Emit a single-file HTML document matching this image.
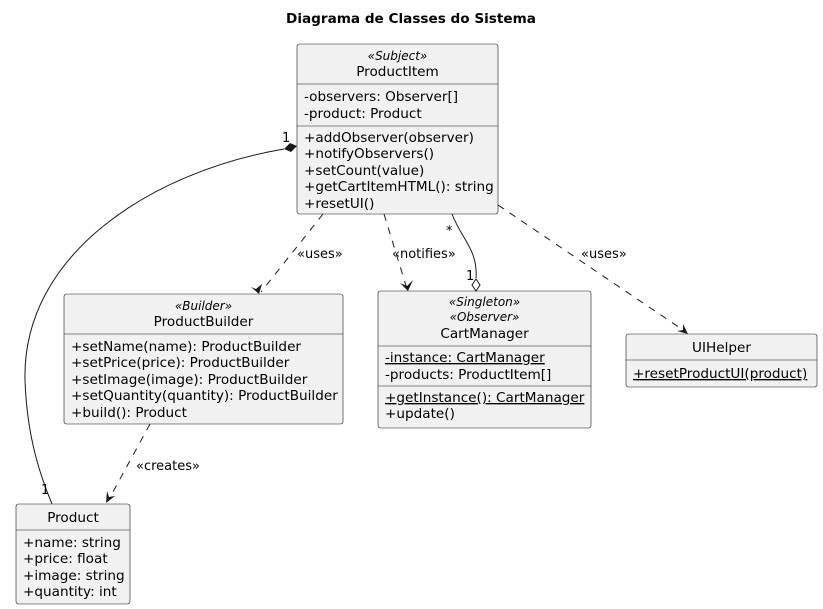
<!DOCTYPE html>
<html><head><meta charset="utf-8"><style>
html,body{margin:0;padding:0;background:#fff;}
svg{display:block;font-family:"DejaVu Sans","Liberation Sans",sans-serif;}
.b{fill:#f1f1f1;stroke:#181818;stroke-width:0.6;}
.l{stroke:#181818;stroke-width:0.6;}
.t{font-size:13.6px;fill:#000;}
.s{font-size:12px;font-style:italic;fill:#000;}
.c{stroke:#181818;stroke-width:1;fill:none;}
.d{stroke:#181818;stroke-width:1;fill:none;stroke-dasharray:7,7;}
.lb{font-size:13px;fill:#000;}
</style></head><body>
<svg width="823" height="609" viewBox="0 0 823 609">
<text x="411" y="23" text-anchor="middle" font-size="13.6" font-weight="bold">Diagrama de Classes do Sistema</text>

<!-- ProductItem -->
<rect class="b" x="297" y="44" width="201" height="170" rx="2.5"/>
<text class="s" x="397.5" y="60" text-anchor="middle">«Subject»</text>
<text class="t" x="397.5" y="76" text-anchor="middle">ProductItem</text>
<line class="l" x1="297" y1="84" x2="498" y2="84"/>
<text class="t" x="304" y="101">-observers: Observer[]</text>
<text class="t" x="304" y="118">-product: Product</text>
<line class="l" x1="297" y1="126" x2="498" y2="126"/>
<text class="t" x="304" y="142">+addObserver(observer)</text>
<text class="t" x="304" y="158">+notifyObservers()</text>
<text class="t" x="304" y="175">+setCount(value)</text>
<text class="t" x="304" y="191">+getCartItemHTML(): string</text>
<text class="t" x="304" y="208">+resetUI()</text>

<!-- ProductBuilder -->
<rect class="b" x="64" y="294" width="279" height="130" rx="2.5"/>
<text class="s" x="203.5" y="310" text-anchor="middle">«Builder»</text>
<text class="t" x="203.5" y="326" text-anchor="middle">ProductBuilder</text>
<line class="l" x1="64" y1="334" x2="343" y2="334"/>
<text class="t" x="71" y="351">+setName(name): ProductBuilder</text>
<text class="t" x="71" y="367">+setPrice(price): ProductBuilder</text>
<text class="t" x="71" y="384">+setImage(image): ProductBuilder</text>
<text class="t" x="71" y="400">+setQuantity(quantity): ProductBuilder</text>
<text class="t" x="71" y="417">+build(): Product</text>

<!-- CartManager -->
<rect class="b" x="378" y="291" width="213" height="137" rx="2.5"/>
<text class="s" x="484.5" y="306" text-anchor="middle">«Singleton»</text>
<text class="s" x="484.5" y="321" text-anchor="middle">«Observer»</text>
<text class="t" x="484.5" y="338" text-anchor="middle">CartManager</text>
<line class="l" x1="378" y1="346" x2="591" y2="346"/>
<text class="t" x="385" y="362" text-decoration="underline">-instance: CartManager</text>
<text class="t" x="385" y="379">-products: ProductItem[]</text>
<line class="l" x1="378" y1="386" x2="591" y2="386"/>
<text class="t" x="385" y="402" text-decoration="underline">+getInstance(): CartManager</text>
<text class="t" x="385" y="418">+update()</text>

<!-- UIHelper -->
<rect class="b" x="626" y="334" width="191" height="53" rx="2.5"/>
<text class="t" x="721.5" y="352" text-anchor="middle">UIHelper</text>
<line class="l" x1="626" y1="360" x2="817" y2="360"/>
<text class="t" x="633" y="378" text-decoration="underline">+resetProductUI(product)</text>

<!-- Product -->
<rect class="b" x="16" y="504" width="114" height="100" rx="2.5"/>
<text class="t" x="73" y="522" text-anchor="middle">Product</text>
<line class="l" x1="16" y1="530" x2="130" y2="530"/>
<text class="t" x="23" y="547">+name: string</text>
<text class="t" x="23" y="563">+price: float</text>
<text class="t" x="23" y="580">+image: string</text>
<text class="t" x="23" y="596">+quantity: int</text>

<!-- composition -->
<path class="c" d="M284,149 C150,172 22,255 25,380 C27,440 42,480 52,504"/>
<polygon points="297,146 290,143 284,149 291,152" fill="#181818"/>
<text class="lb" x="282" y="142">1</text>
<text class="lb" x="41" y="494">1</text>

<!-- uses to builder -->
<path class="d" d="M323,214 L261,292"/>
<path d="M259,294 L251,287 L256,289 L262,284 Z" fill="#181818"/>
<text class="lb" x="297" y="258">«uses»</text>

<!-- notifies -->
<path class="d" d="M384,214 L407,289"/>
<path d="M408,291 L400,283 L407,286 L413,280 Z" fill="#181818"/>
<text class="lb" x="392" y="258">«notifies»</text>

<!-- aggregation -->
<path class="c" d="M452,214 C462,240 478,250 476,278"/>
<polygon points="476,279 480,285 476,291 472,285" fill="#fff" stroke="#181818" stroke-width="1"/>
<text class="lb" x="446" y="235">*</text>
<text class="lb" x="466" y="280">1</text>

<!-- uses to UIHelper -->
<path class="d" d="M498,205 L686,332"/>
<path d="M688,334 L677,331 L683,330 L683,324 Z" fill="#181818"/>
<text class="lb" x="581" y="258">«uses»</text>

<!-- creates -->
<path class="d" d="M150,424 L108,501"/>
<path d="M106,503 L107,491 L109,497 L115,496 Z" fill="#181818"/>
<text class="lb" x="136" y="470">«creates»</text>
</svg>
</body></html>
